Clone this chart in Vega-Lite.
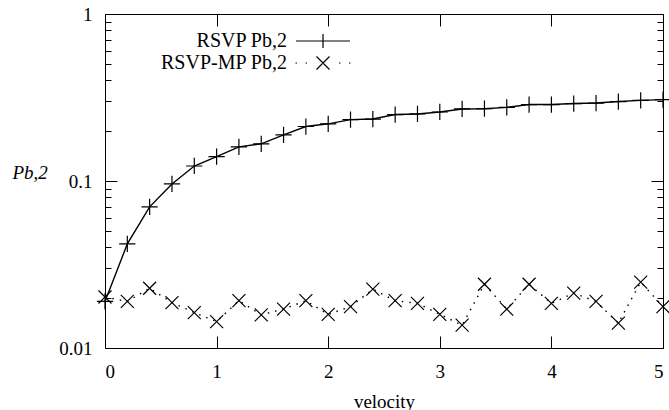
{
  "$schema": "https://vega.github.io/schema/vega-lite/v6.json",
  "autosize": {"type": "none"},
  "padding": {"left": 105, "top": 14, "right": 6, "bottom": 62},
  "width": 558,
  "height": 334,
  "config": {
    "font": "Liberation Serif, DejaVu Serif, serif",
    "view": {"stroke": "black", "strokeWidth": 1},
    "axis": {
      "labelFont": "Liberation Serif, DejaVu Serif, serif",
      "titleFont": "Liberation Serif, DejaVu Serif, serif",
      "labelFontSize": 19,
      "titleFontSize": 19,
      "titleFontWeight": "normal",
      "labelColor": "black",
      "titleColor": "black",
      "tickColor": "black",
      "tickWidth": 1,
      "domain": false,
      "grid": false
    },
    "legend": {"labelFont": "Liberation Serif, DejaVu Serif, serif"}
  },
  "datasets": {
    "d": [
      {"v": 0.0, "p": 0.019, "series": "RSVP Pb,2"},
      {"v": 0.2, "p": 0.042, "series": "RSVP Pb,2"},
      {"v": 0.4, "p": 0.070, "series": "RSVP Pb,2"},
      {"v": 0.6, "p": 0.096, "series": "RSVP Pb,2"},
      {"v": 0.8, "p": 0.123, "series": "RSVP Pb,2"},
      {"v": 1.0, "p": 0.140, "series": "RSVP Pb,2"},
      {"v": 1.2, "p": 0.160, "series": "RSVP Pb,2"},
      {"v": 1.4, "p": 0.167, "series": "RSVP Pb,2"},
      {"v": 1.6, "p": 0.189, "series": "RSVP Pb,2"},
      {"v": 1.8, "p": 0.212, "series": "RSVP Pb,2"},
      {"v": 2.0, "p": 0.220, "series": "RSVP Pb,2"},
      {"v": 2.2, "p": 0.233, "series": "RSVP Pb,2"},
      {"v": 2.4, "p": 0.235, "series": "RSVP Pb,2"},
      {"v": 2.6, "p": 0.250, "series": "RSVP Pb,2"},
      {"v": 2.8, "p": 0.252, "series": "RSVP Pb,2"},
      {"v": 3.0, "p": 0.259, "series": "RSVP Pb,2"},
      {"v": 3.2, "p": 0.270, "series": "RSVP Pb,2"},
      {"v": 3.4, "p": 0.271, "series": "RSVP Pb,2"},
      {"v": 3.6, "p": 0.276, "series": "RSVP Pb,2"},
      {"v": 3.8, "p": 0.287, "series": "RSVP Pb,2"},
      {"v": 4.0, "p": 0.287, "series": "RSVP Pb,2"},
      {"v": 4.2, "p": 0.291, "series": "RSVP Pb,2"},
      {"v": 4.4, "p": 0.293, "series": "RSVP Pb,2"},
      {"v": 4.6, "p": 0.299, "series": "RSVP Pb,2"},
      {"v": 4.8, "p": 0.304, "series": "RSVP Pb,2"},
      {"v": 5.0, "p": 0.307, "series": "RSVP Pb,2"},
      {"v": 0.0, "p": 0.0202, "series": "RSVP-MP Pb,2"},
      {"v": 0.2, "p": 0.0190, "series": "RSVP-MP Pb,2"},
      {"v": 0.4, "p": 0.0228, "series": "RSVP-MP Pb,2"},
      {"v": 0.6, "p": 0.0187, "series": "RSVP-MP Pb,2"},
      {"v": 0.8, "p": 0.0163, "series": "RSVP-MP Pb,2"},
      {"v": 1.0, "p": 0.0144, "series": "RSVP-MP Pb,2"},
      {"v": 1.2, "p": 0.0192, "series": "RSVP-MP Pb,2"},
      {"v": 1.4, "p": 0.0158, "series": "RSVP-MP Pb,2"},
      {"v": 1.6, "p": 0.0171, "series": "RSVP-MP Pb,2"},
      {"v": 1.8, "p": 0.0192, "series": "RSVP-MP Pb,2"},
      {"v": 2.0, "p": 0.0159, "series": "RSVP-MP Pb,2"},
      {"v": 2.2, "p": 0.0177, "series": "RSVP-MP Pb,2"},
      {"v": 2.4, "p": 0.0225, "series": "RSVP-MP Pb,2"},
      {"v": 2.6, "p": 0.0192, "series": "RSVP-MP Pb,2"},
      {"v": 2.8, "p": 0.0185, "series": "RSVP-MP Pb,2"},
      {"v": 3.0, "p": 0.0159, "series": "RSVP-MP Pb,2"},
      {"v": 3.2, "p": 0.0137, "series": "RSVP-MP Pb,2"},
      {"v": 3.4, "p": 0.0241, "series": "RSVP-MP Pb,2"},
      {"v": 3.6, "p": 0.0171, "series": "RSVP-MP Pb,2"},
      {"v": 3.8, "p": 0.0241, "series": "RSVP-MP Pb,2"},
      {"v": 4.0, "p": 0.0185, "series": "RSVP-MP Pb,2"},
      {"v": 4.2, "p": 0.0213, "series": "RSVP-MP Pb,2"},
      {"v": 4.4, "p": 0.0190, "series": "RSVP-MP Pb,2"},
      {"v": 4.6, "p": 0.0141, "series": "RSVP-MP Pb,2"},
      {"v": 4.8, "p": 0.0248, "series": "RSVP-MP Pb,2"},
      {"v": 5.0, "p": 0.0177, "series": "RSVP-MP Pb,2"}
    ]
  },
  "data": {"name": "d"},
  "resolve": {"axis": {"x": "independent", "y": "independent"}},
  "layer": [
    {
      "transform": [{"filter": "datum.series === 'RSVP Pb,2'"}],
      "mark": {"type": "line", "color": "black", "strokeWidth": 1.4},
      "encoding": {
        "x": {"field": "v", "type": "quantitative",
          "scale": {"domain": [0, 5], "nice": false, "zero": false},
          "axis": {"orient": "bottom", "values": [0, 1, 2, 3, 4, 5], "tickSize": -12, "labelPadding": 26, "format": "d", "title": "velocity", "titleY": 59, "titleBaseline": "alphabetic"}},
        "y": {"field": "p", "type": "quantitative",
          "scale": {"type": "log", "domain": [0.01, 1], "nice": false},
          "axis": {"orient": "left", "values": [0.01, 0.1, 1], "tickSize": -12, "labelPadding": 25, "format": "~g", "labelBaseline": "middle",
            "title": "Pb,2", "titleFontStyle": "italic", "titleAngle": 0, "titleAlign": "left", "titleBaseline": "alphabetic", "titleX": -93, "titleY": 164}}
      }
    },
    {
      "transform": [{"filter": "datum.series === 'RSVP-MP Pb,2'"}],
      "mark": {"type": "line", "color": "black", "strokeWidth": 1.4, "strokeDash": [1.5, 6]},
      "encoding": {
        "x": {"field": "v", "type": "quantitative",
          "axis": {"orient": "top", "values": [0, 1, 2, 3, 4, 5], "tickSize": -12, "labels": false, "title": null}},
        "y": {"field": "p", "type": "quantitative",
          "axis": {"orient": "right", "values": [0.01, 0.1, 1], "tickSize": -12, "labels": false, "title": null}}
      }
    },
    {
      "transform": [{"filter": "datum.series === 'RSVP Pb,2'"}],
      "mark": {"type": "point", "filled": false, "color": "black", "strokeWidth": 1.2, "opacity": 1, "size": 169, "shape": "M-1.25,0H1.25M0,-1.25V1.25"},
      "encoding": {
        "x": {"field": "v", "type": "quantitative", "axis": null},
        "y": {"field": "p", "type": "quantitative",
          "axis": {"orient": "left", "values": [0.02, 0.03, 0.04, 0.05, 0.06, 0.07, 0.08, 0.09, 0.2, 0.3, 0.4, 0.5, 0.6, 0.7, 0.8, 0.9], "tickSize": -6, "labels": false, "title": null}}
      }
    },
    {
      "transform": [{"filter": "datum.series === 'RSVP-MP Pb,2'"}],
      "mark": {"type": "point", "filled": false, "color": "black", "strokeWidth": 1.2, "opacity": 1, "size": 169, "shape": "M-1,-1L1,1M-1,1L1,-1"},
      "encoding": {
        "x": {"field": "v", "type": "quantitative", "axis": null},
        "y": {"field": "p", "type": "quantitative",
          "axis": {"orient": "right", "values": [0.02, 0.03, 0.04, 0.05, 0.06, 0.07, 0.08, 0.09, 0.2, 0.3, 0.4, 0.5, 0.6, 0.7, 0.8, 0.9], "tickSize": -6, "labels": false, "title": null}}
      }
    },
    {
      "mark": {"type": "point", "filled": false, "color": "black", "opacity": 0, "size": 100},
      "encoding": {
        "x": {"field": "v", "type": "quantitative", "axis": null},
        "y": {"field": "p", "type": "quantitative", "axis": null},
        "shape": {"field": "series", "type": "nominal",
          "scale": {"domain": ["RSVP Pb,2", "RSVP-MP Pb,2"], "range": ["M-5.4,0H5.4M0,-1.4V1.4", "M-5.5,0h0.3M-3.5,0h0.3M3.2,0h0.3M5.2,0h0.3M-1.3,-1.3L1.3,1.3M-1.3,1.3L1.3,-1.3"]},
          "legend": {
            "title": null, "orient": "none", "legendX": 208, "legendY": 17, "padding": 0,
            "labelFontSize": 20, "labelColor": "black",
            "labelAlign": "right", "labelOffset": -46, "labelLimit": 300,
            "symbolSize": 100, "symbolOpacity": 1, "symbolStrokeColor": "black", "symbolFillColor": "transparent", "symbolStrokeWidth": 1.2,
            "rowPadding": 2
          }}
      }
    }
  ]
}
